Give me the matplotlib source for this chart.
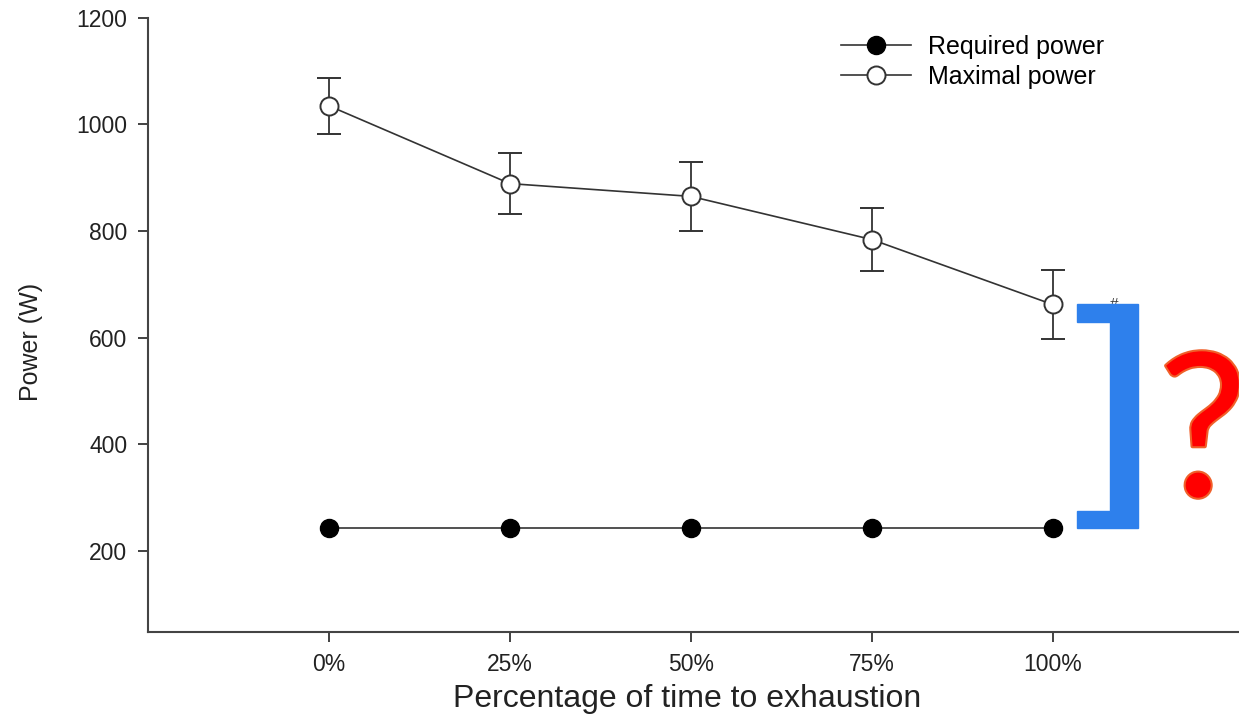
import matplotlib.pyplot as plt
import matplotlib.patheffects as pe
from matplotlib.patches import Polygon
from matplotlib.lines import Line2D

plt.rcParams['font.family'] = ['Liberation Sans', 'DejaVu Sans']

# data
labels = ['0%', '25%', '50%', '75%', '100%']
required = [243, 243, 243, 243, 243]
maximal = [1035, 889, 865, 784, 662]
maximal_err = [53, 57, 65, 59, 64]

fig = plt.figure(figsize=(12.39, 7.16), dpi=100)
ax = fig.add_axes([0.1195, 0.1173, 0.8805, 0.8576])

x = list(range(len(labels)))
ink = '#333333'

ax.plot(x, required, color=ink, lw=1.2, marker='o', ms=13,
        mfc='black', mec='black', zorder=3)
ax.errorbar(x, maximal, yerr=maximal_err, color=ink, lw=1.2, marker='o', ms=13,
            mfc='white', mec=ink, mew=1.4, capsize=8.5, elinewidth=1.3,
            capthick=1.3, zorder=3)

ax.set_xlim(-1, 5.03)
ax.set_ylim(47, 1200)
ax.set_xticks(x)
ax.set_xticklabels(labels)
ax.set_yticks([200, 400, 600, 800, 1000, 1200])
ax.tick_params(axis='both', labelsize=16.5, length=7, width=1.3, color=ink,
               labelcolor='#222222', pad=8)
for s in ['top', 'right']:
    ax.spines[s].set_visible(False)
for s in ['left', 'bottom']:
    ax.spines[s].set_color('#444444')
    ax.spines[s].set_linewidth(1.5)
ax.spines['left'].set_bounds(47, 1200)

ax.set_xlabel('Percentage of time to exhaustion', fontsize=23, color='#222222')
ax.xaxis.set_label_coords(0.494, -0.084)
ax.set_ylabel('Power (W)', fontsize=18, color='#222222')
ax.yaxis.set_label_coords(-0.096, 0.472)

# legend
h1 = Line2D([], [], color=ink, lw=1.2, marker='o', ms=13, mfc='black', mec='black')
h2 = Line2D([], [], color=ink, lw=1.2, marker='o', ms=13, mfc='white', mec=ink, mew=1.4)
fig.legend([h1, h2], ['Required power', 'Maximal power'], frameon=False,
           fontsize=18, handlelength=2.8, handletextpad=0.65, labelspacing=0.25,
           loc='upper left', bbox_to_anchor=(0.661, 0.983))

# '#' mark and blue bracket between required and maximal power at 100%
top = maximal[-1]
bot = required[-1]
ax.text(4.34, top + 14, '#', fontsize=11, color='#333333', ha='center', va='top', zorder=2)
th = 32
bracket = Polygon([(4.133, top), (4.47, top), (4.47, bot), (4.133, bot),
                   (4.133, bot + th), (4.315, bot + th), (4.315, top - th),
                   (4.133, top - th)], closed=True, color='#2E80EC', zorder=4,
                  clip_on=False)
ax.add_patch(bracket)

ax.text(4.83, 302, '?', fontsize=144, family=['Lato', 'DejaVu Sans'],
        color='#FF0000', ha='center', va='baseline', zorder=5, clip_on=False,
        path_effects=[pe.withStroke(linewidth=3, foreground='#F0602A')])

fig.savefig('out.png', dpi=100)
